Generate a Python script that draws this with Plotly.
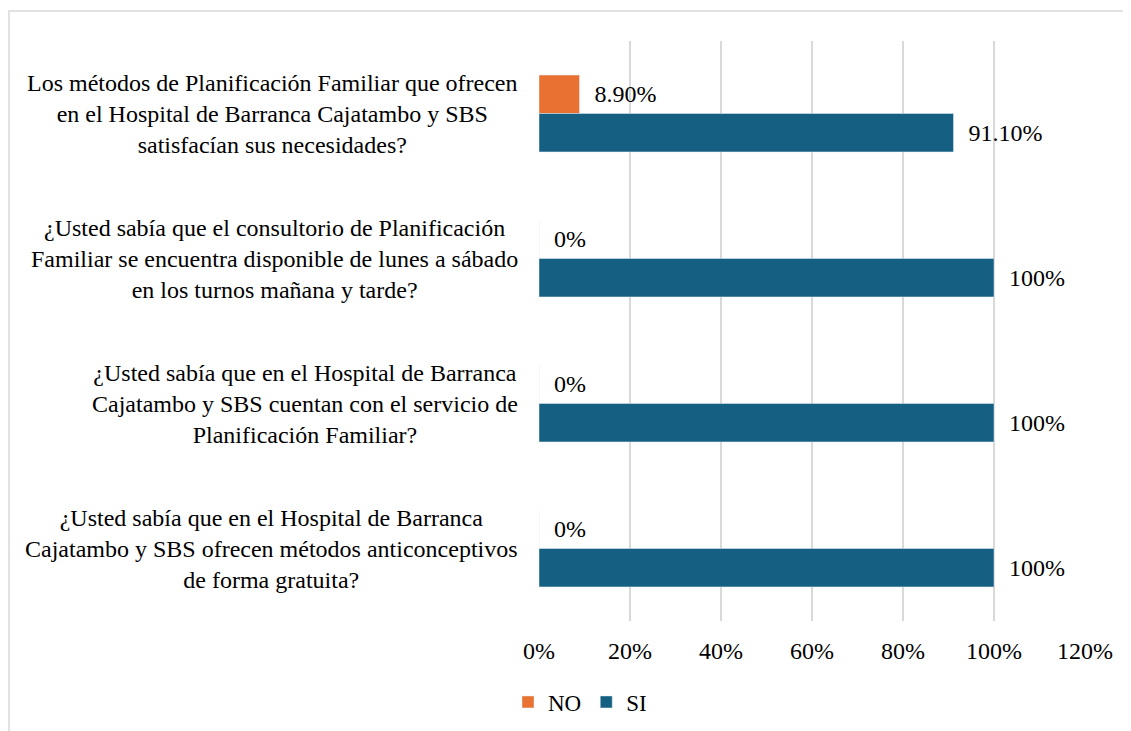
import plotly.graph_objects as go

categories = [
    "Los métodos de Planificación Familiar que ofrecen<br>en el Hospital de Barranca Cajatambo y SBS<br>satisfacían sus necesidades?",
    "¿Usted sabía que el consultorio de Planificación<br>Familiar se encuentra disponible de lunes a sábado<br>en los turnos mañana y tarde?",
    "¿Usted sabía que en el Hospital de Barranca<br>Cajatambo y SBS cuentan con el servicio de<br>Planificación Familiar?",
    "¿Usted sabía que en el Hospital de Barranca<br>Cajatambo y SBS ofrecen métodos anticonceptivos<br>de forma gratuita?",
]
no_values = [8.9, 0, 0, 0]
si_values = [91.1, 100, 100, 100]
no_labels = ["8.90%", "0%", "0%", "0%"]
si_labels = ["91.10%", "100%", "100%", "100%"]
x_ticks = [0, 20, 40, 60, 80, 100, 120]
x_tick_text = ["0%", "20%", "40%", "60%", "80%", "100%", "120%"]

FONT = "Liberation Serif"
ORANGE = "#E97132"
BLUE = "#156082"

# page has an 8px body margin
W, H = 1123, 723
L, R, T, B = 531, 46, 33, 110
pw = W - L - R
ph = H - T - B

fig = go.Figure()
fig.add_trace(go.Bar(
    name="NO", y=categories, x=no_values, orientation="h",
    marker_color=ORANGE, text=no_labels,
    texttemplate="\u00a0\u00a0%{text}", textposition="outside",
    textfont=dict(family=FONT, size=24, color="#000000"), cliponaxis=False,
))
fig.add_trace(go.Bar(
    name="SI", y=categories, x=si_values, orientation="h",
    marker_color=BLUE, text=si_labels,
    texttemplate="\u00a0\u00a0%{text}", textposition="outside",
    textfont=dict(family=FONT, size=24, color="#000000"), cliponaxis=False,
))

for c in categories:
    fig.add_annotation(
        x=(512 - L) / pw, xref="paper", y=c, yref="y",
        text=c, showarrow=False, xanchor="right", align="center",
        font=dict(family=FONT, size=24, color="#000000"),
    )

fig.add_shape(
    type="rect", xref="paper", yref="paper",
    x0=(1 - L) / pw, x1=(W + 20 - L) / pw,
    y0=-(B + 20) / ph, y1=(H - B - 3) / ph,
    line=dict(color="#d9d9d9", width=1.5), fillcolor="rgba(0,0,0,0)", layer="below",
)

fig.update_layout(
    width=W, height=H,
    margin=dict(l=L, r=R, t=T, b=B, autoexpand=False),
    paper_bgcolor="white", plot_bgcolor="white",
    barmode="group", bargap=0.47, bargroupgap=0,
    font=dict(family=FONT, size=24, color="#000000"),
    xaxis=dict(
        range=[0, 120], tickvals=x_ticks, ticktext=x_tick_text,
        showgrid=True, gridcolor="#d9d9d9", gridwidth=1.5,
        zeroline=False, showline=False,
        ticks="outside", ticklen=8, tickcolor="rgba(0,0,0,0)",
        tickfont=dict(family=FONT, size=24, color="#000000"),
    ),
    yaxis=dict(
        autorange="reversed", showticklabels=False, showgrid=False,
        zeroline=False, showline=False,
    ),
    showlegend=True,
    legend=dict(
        orientation="h", x=(500 - L) / pw, xanchor="left",
        y=-(694 - (H - B)) / ph, yanchor="middle",
        font=dict(family=FONT, size=23, color="#000000"),
        itemwidth=30, traceorder="normal",
    ),
)

fig.write_html("out.html")
